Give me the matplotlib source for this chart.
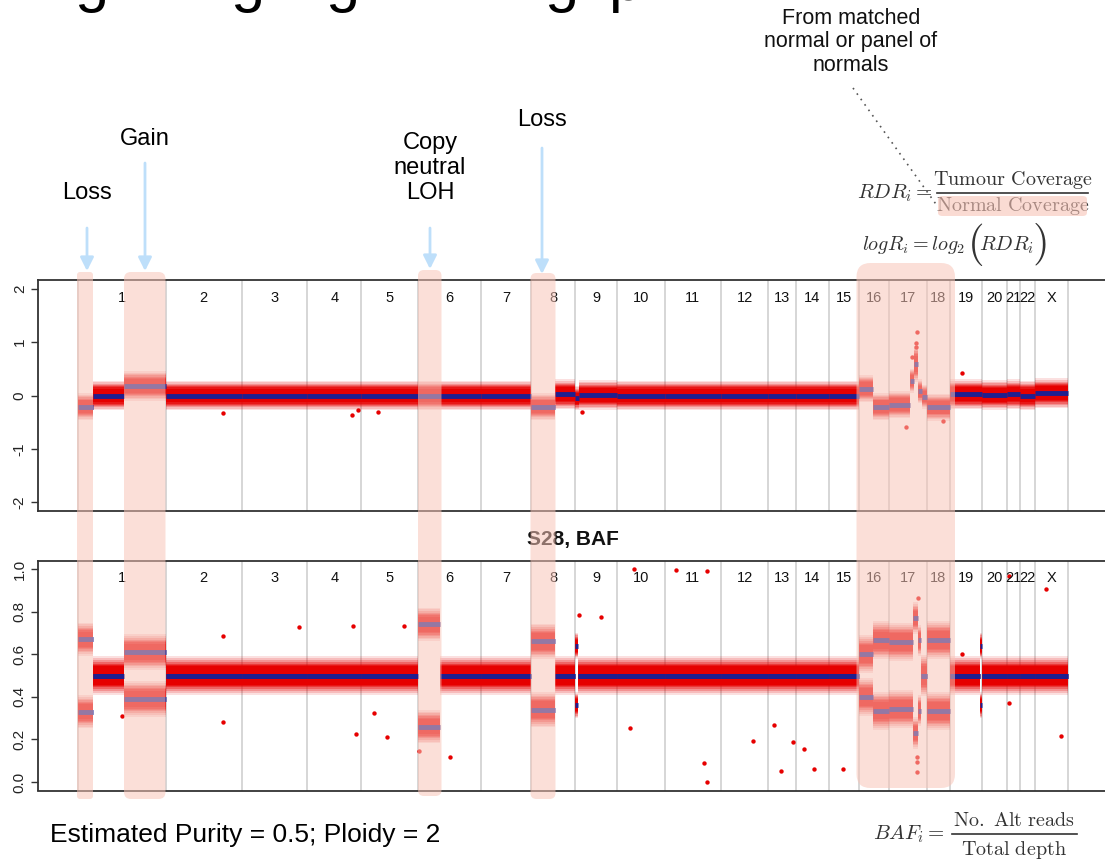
import matplotlib
matplotlib.use("Agg")
import numpy as np
import matplotlib.pyplot as plt
from matplotlib.patches import FancyBboxPatch, FancyArrowPatch
from matplotlib.lines import Line2D
from matplotlib.transforms import blended_transform_factory

plt.rcParams['font.family'] = ['Liberation Sans', 'DejaVu Sans']
plt.rcParams['mathtext.fontset'] = 'cm'

# ---------------------------------------------------------------- data
chrom_names = ['1', '2', '3', '4', '5', '6', '7', '8', '9', '10', '11', '12',
               '13', '14', '15', '16', '17', '18', '19', '20', '21', '22', 'X']
chrom_len = [88.0, 76.4, 65.2, 54.4, 56.6, 63.4, 49.6, 44.3, 41.7, 47.7, 56.3,
             47.0, 28.0, 32.6, 30.4, 30.5, 37.2, 23.0, 32.8, 24.5, 12.6, 15.2, 33.5]

# log ratio segments (genome-wide position), segment mean and spread of bins
logr_start = [0.0, 15.5, 46.5, 88.0, 164.4, 229.6, 284.0, 340.6, 363.0, 404.0,
              453.6, 477.5, 497.9, 501.5, 539.6, 587.3, 643.6, 690.6, 718.6,
              751.2, 781.6, 796.0, 812.1, 832.5, 837.0, 841.0, 845.0, 849.3,
              872.3, 905.1, 929.6, 942.2, 957.4]
logr_end = [15.5, 46.5, 88.0, 164.4, 229.6, 284.0, 340.6, 363.0, 404.0, 453.6,
            477.5, 497.9, 501.5, 539.6, 587.3, 643.6, 690.6, 718.6, 751.2,
            781.6, 796.0, 812.1, 832.5, 837.0, 841.0, 845.0, 849.3, 872.3,
            905.1, 929.6, 942.2, 957.4, 990.9]
logr_mean = [-0.21, 0.0, 0.18, 0.0, 0.0, 0.0, 0.0, 0.0, 0.0, 0.0,
             -0.21, 0.02, -0.05, 0.01, 0.0, 0.0, 0.0, 0.0, 0.0,
             0.0, 0.13, -0.21, -0.17, 0.28, 0.59, 0.08, -0.02, -0.22,
             0.02, 0.01, 0.02, 0.0, 0.04]
logr_sd = [0.09, 0.1, 0.1, 0.1, 0.1, 0.1, 0.1, 0.1, 0.1, 0.1,
           0.09, 0.1, 0.08, 0.1, 0.1, 0.1, 0.1, 0.1, 0.1,
           0.1, 0.09, 0.09, 0.09, 0.08, 0.12, 0.08, 0.08, 0.09,
           0.1, 0.1, 0.1, 0.1, 0.1]

# B-allele frequency segments: major allele frequency (mirrored at 1 - BAF)
baf_start = [0.0, 15.5, 46.5, 88.0, 164.4, 229.6, 284.0, 340.6, 363.0, 404.0,
             453.6, 477.5, 497.9, 501.0, 539.6, 587.3, 643.6, 690.6, 718.6,
             751.2, 781.6, 796.0, 812.1, 835.5, 840.5, 843.5, 849.3, 872.3,
             903.0, 905.1, 929.6, 942.2, 957.4]
baf_end = [15.5, 46.5, 88.0, 164.4, 229.6, 284.0, 340.6, 363.0, 404.0, 453.6,
           477.5, 497.9, 501.0, 539.6, 587.3, 643.6, 690.6, 718.6, 751.2,
           781.6, 796.0, 812.1, 835.5, 840.5, 843.5, 849.3, 872.3, 903.0,
           905.1, 929.6, 942.2, 957.4, 990.9]
baf_major = [0.67, 0.5, 0.61, 0.5, 0.5, 0.5, 0.5, 0.74, 0.5, 0.5,
             0.66, 0.5, 0.64, 0.5, 0.5, 0.5, 0.5, 0.5, 0.5,
             0.5, 0.60, 0.665, 0.657, 0.77, 0.665, 0.5, 0.667, 0.5,
             0.64, 0.5, 0.5, 0.5, 0.5]
baf_sd = [0.028, 0.033, 0.03, 0.033, 0.033, 0.033, 0.033, 0.028, 0.033, 0.033,
          0.03, 0.033, 0.022, 0.033, 0.033, 0.033, 0.033, 0.033, 0.033,
          0.033, 0.032, 0.032, 0.032, 0.026, 0.026, 0.035, 0.032, 0.033,
          0.022, 0.033, 0.033, 0.033, 0.033]

# isolated bins away from their segment
logr_out_x = [145.5, 274.5, 280.5, 300.5, 505.0, 884.5, 839.5, 838.5, 839.0,
              834.5, 828.2, 866.0]
logr_out_y = [-0.33, -0.37, -0.27, -0.30, -0.31, 0.42, 1.18, 0.98, 0.90,
              0.72, -0.59, -0.47]
baf_out_x = [44.5, 145.2, 145.2, 221.8, 275.5, 278.8, 296.8, 309.2, 326.5,
             341.5, 372.8, 501.5, 523.2, 556.5, 598.8, 629.2, 552.5, 675.2,
             696.5, 715.2, 726.5, 626.5, 629.2, 703.2, 736.5, 765.8, 968.5,
             983.8, 931.5, 931.5, 840.2, 839.2, 839.2, 839.2, 885.0]
baf_out_y = [0.31, 0.687, 0.281, 0.73, 0.734, 0.223, 0.325, 0.213, 0.731,
             0.145, 0.116, 0.784, 0.776, 1.0, 0.994, 0.99, 0.253, 0.194,
             0.266, 0.188, 0.155, 0.088, 0.0, 0.053, 0.061, 0.06, 0.904,
             0.216, 0.965, 0.37, 0.864, 0.094, 0.046, 0.117, 0.60]

# ---------------------------------------------------------------- layout
W, H = 1105, 859
RED = '#E60000'
NAVY = '#1F1F8F'
GRID = '#CCCCCC'
INK = '#333333'
PINK = '#F8C4B7'
ARROW = '#BEDFFA'

fig = plt.figure(figsize=(W / 100, H / 100), dpi=100)


def fx(x):
    return x / W


def fy(y):
    return 1 - y / H


bounds = np.concatenate([[0.0], np.cumsum(chrom_len)])
centers = (bounds[:-1] + bounds[1:]) / 2
pad = 0.04 * bounds[-1]

ax1 = fig.add_axes([fx(37.9), fy(511), 1070 / W, 231 / H])
ax2 = fig.add_axes([fx(37.9), fy(790.5), 1070 / W, 230 / H])

# density of bins around a segment mean: stacked translucent layers
# (half-width in units of the segment spread, opacity)
DENSITY = [(2.8, 0.12), (2.5, 0.16), (2.2, 0.22), (1.95, 0.3), (1.7, 0.42),
           (1.5, 0.6), (1.3, 1.0)]


def draw_band(ax, s, e, m, sd):
    for k, a in DENSITY:
        ax.fill_between([s, e], m - k * sd, m + k * sd, color=RED, alpha=a,
                        linewidth=0, zorder=2)


def frame(ax, ylim, ticks, labels):
    ax.set_xlim(-pad, bounds[-1] + pad)
    ax.set_ylim(*ylim)
    ax.set_xticks([])
    ax.set_yticks(ticks)
    ax.set_yticklabels(labels, rotation=90, va='center')
    ax.tick_params(axis='y', direction='out', length=5, width=1,
                   color=INK, labelsize=11, labelcolor='#222222', pad=3)
    for sp in ax.spines.values():
        sp.set_color(INK)
        sp.set_linewidth(1.3)
    for b in bounds:
        ax.axvline(b, color=GRID, lw=1.1, zorder=1)
    tr = blended_transform_factory(ax.transData, ax.transAxes)
    for c, name in zip(centers, chrom_names):
        ax.text(c, 0.922, name, transform=tr, ha='center', va='center',
                fontsize=10.5, color='#111111')


# log ratio panel
frame(ax1, (-2.16, 2.16), [-2, -1, 0, 1, 2], ['-2', '-1', '0', '1', '2'])
for s, e, m, sd in zip(logr_start, logr_end, logr_mean, logr_sd):
    draw_band(ax1, s, e, m, sd)
ax1.scatter(logr_out_x, logr_out_y, s=10, color=RED, lw=0, zorder=2.5)
ax1.hlines(logr_mean, logr_start, logr_end, color=NAVY, lw=3.5, zorder=4)

# BAF panel
frame(ax2, (-0.04, 1.04), [0.0, 0.2, 0.4, 0.6, 0.8, 1.0],
      ['0.0', '0.2', '0.4', '0.6', '0.8', '1.0'])
for s, e, m, sd in zip(baf_start, baf_end, baf_major, baf_sd):
    draw_band(ax2, s, e, m, sd)
    if m != 0.5:
        draw_band(ax2, s, e, 1 - m, sd)
ax2.scatter(baf_out_x, baf_out_y, s=10, color=RED, lw=0, zorder=2.5)
ax2.hlines(baf_major, baf_start, baf_end, color=NAVY, lw=3.5, zorder=4)
ax2.hlines([1 - m for m in baf_major], baf_start, baf_end, color=NAVY,
           lw=3.5, zorder=4)

fig.text(fx(573), fy(540), 'S28, BAF', ha='center', va='center',
         fontsize=15, fontweight='bold', color='#111111')

# ---------------------------------------------------------------- slide annotations
# heading of the slide, cut by the top edge
for gx, ch in zip([74, 230, 325, 544, 608], ['g', 'g', 'g', 'g', 'p']):
    fig.text(fx(gx), 1.0, ch, fontsize=44, va='baseline', ha='left',
             color='black')

labels = [('Loss', 87, 193), ('Gain', 145, 139),
          ('Copy\nneutral\nLOH', 430, 168), ('Loss', 542, 120)]
for txt, x, y in labels:
    fig.text(fx(x), fy(y), txt, ha='center', va='center', fontsize=17,
             linespacing=1.2, color='black')

arrows = [(87, 228, 271), (145, 163, 271), (430, 228, 269), (542, 148, 274)]
for x, y0, y1 in arrows:
    fig.add_artist(FancyArrowPatch((fx(x), fy(y0)), (fx(x), fy(y1)),
                                   transform=fig.transFigure,
                                   arrowstyle='-|>,head_length=0.4,head_width=0.2',
                                   mutation_scale=20, color=ARROW, lw=2,
                                   shrinkA=0, shrinkB=0, zorder=12))

fig.text(fx(50), fy(835), 'Estimated Purity = 0.5; Ploidy = 2', ha='left',
         va='center', fontsize=19, color='black')

fig.text(fx(851), fy(42), 'From matched\nnormal or panel of\nnormals',
         ha='center', va='center', fontsize=15.5, linespacing=1.18,
         color='#111111')
fig.add_artist(Line2D([fx(853), fx(938)], [fy(88), fy(207)],
                      transform=fig.transFigure, color='#555555', lw=1.2,
                      ls=(0, (1, 3)), zorder=12))

# read depth ratio formula
fig.text(fx(895), fy(193), r'$RDR_i =$', ha='center', va='center',
         fontsize=15, color=INK)
fig.text(fx(1013), fy(180), r'$\mathrm{Tumour\ Coverage}$', ha='center',
         va='center', fontsize=14.5, color=INK)
fig.add_artist(Line2D([fx(937), fx(1088)], [fy(193), fy(193)],
                      transform=fig.transFigure, color=INK, lw=1.2))
fig.text(fx(1013), fy(206), r'$\mathrm{Normal\ Coverage}$', ha='center',
         va='center', fontsize=14.5, color=INK)
fig.add_artist(FancyBboxPatch((fx(938), fy(216)), fx(1087) - fx(938),
                              fy(196) - fy(216),
                              boxstyle='round,pad=0,rounding_size=0.004',
                              transform=fig.transFigure, fc=PINK, ec='none',
                              alpha=0.6, zorder=11))

fig.text(fx(862), fy(245), r'$logR_i = log_2$', ha='left', va='center',
         fontsize=14.5, color=INK)
fig.text(fx(975), fy(244), r'$($', ha='center', va='center', fontsize=31,
         color=INK)
fig.text(fx(1007), fy(245), r'$RDR_i$', ha='center', va='center',
         fontsize=15, color=INK)
fig.text(fx(1039), fy(244), r'$)$', ha='center', va='center', fontsize=31,
         color=INK)

# B-allele frequency formula
fig.text(fx(909), fy(834), r'$BAF_i =$', ha='center', va='center',
         fontsize=15, color=INK)
fig.text(fx(1014), fy(820), r'$\mathrm{No.\ Alt\ reads}$', ha='center',
         va='center', fontsize=14.5, color=INK)
fig.add_artist(Line2D([fx(952), fx(1077)], [fy(834), fy(834)],
                      transform=fig.transFigure, color=INK, lw=1.2))
fig.text(fx(1014), fy(850), r'$\mathrm{Total\ depth}$', ha='center',
         va='center', fontsize=14.5, color=INK)

# highlighted genomic events, laid over both panels
highlights = [(77, 93, 272, 799, 3), (124, 165.5, 272, 799, 7),
              (418, 441.5, 270, 796, 6), (530.5, 555.5, 273, 799, 6),
              (856.5, 955, 263, 788, 14)]
for x0, x1, y0, y1, r in highlights:
    fig.add_artist(FancyBboxPatch((fx(x0), fy(y1)), fx(x1) - fx(x0),
                                  fy(y0) - fy(y1),
                                  boxstyle=f'round,pad=0,rounding_size={r / W}',
                                  mutation_aspect=W / H,
                                  transform=fig.transFigure, fc=PINK,
                                  ec='none', alpha=0.54, zorder=10))

fig.savefig('out.png', dpi=100)
